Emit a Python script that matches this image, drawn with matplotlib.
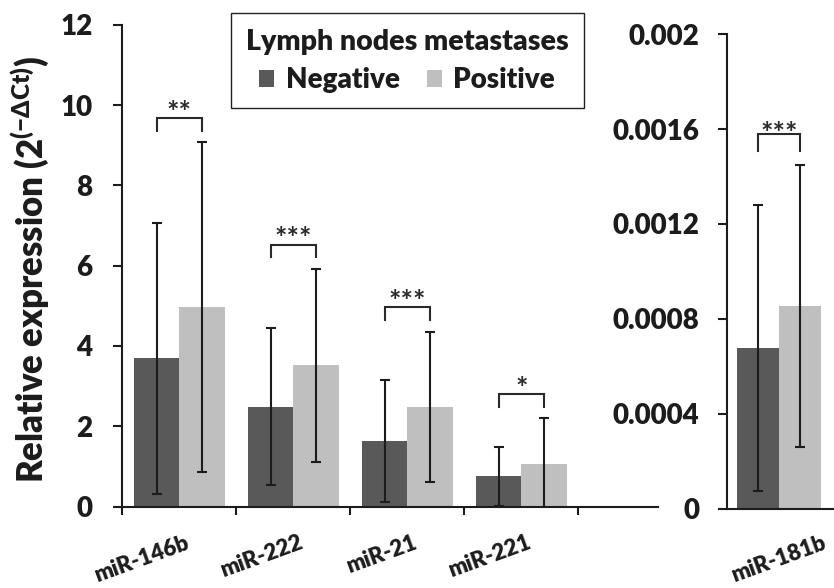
import matplotlib
matplotlib.use('Agg')
import matplotlib.pyplot as plt
from matplotlib.patches import Patch
import numpy as np

WT = 'heavy'
plt.rcParams['font.family'] = ['Lato', 'DejaVu Sans']
plt.rcParams['font.weight'] = WT
plt.rcParams['mathtext.fontset'] = 'custom'
for k in ['rm', 'it', 'bf', 'sf']:
    plt.rcParams['mathtext.' + k] = 'Lato:' + WT
plt.rcParams['mathtext.fallback'] = 'stixsans'

# ---------------- data ----------------
categories = ['miR-146b', 'miR-222', 'miR-21', 'miR-221']
neg_mean = [3.69, 2.49, 1.63, 0.75]
neg_sd = [3.37, 1.95, 1.52, 0.74]
pos_mean = [4.97, 3.52, 2.49, 1.07]
pos_sd = [4.10, 2.40, 1.87, 1.13]
sig = ['**', '***', '***', '*']

categories2 = ['miR-181b']
neg2_mean = [0.000676]
neg2_sd = [0.000603]
pos2_mean = [0.000855]
pos2_sd = [0.000595]
sig2 = ['***']

left_ticks = [0, 2, 4, 6, 8, 10, 12]
right_ticks = [0, 0.0004, 0.0008, 0.0012, 0.0016, 0.002]
right_tick_labels = ['0', '0.0004', '0.0008', '0.0012', '0.0016', '0.002']

legend_title = 'Lymph nodes metastases'
series_names = ['Negative', 'Positive']
ylabel = r'Relative expression (2$^{\mathrm{(-\Delta Ct)}}$)'

# ---------------- style ----------------
NEG = '#595959'
POS = '#bfbfbf'
INK = '#1c1c1c'
W, H = 834, 588
BW = 0.4

fig = plt.figure(figsize=(W / 100, H / 100), dpi=100)
ax1 = fig.add_axes([122.3 / W, 1 - 506.6 / H, 536 / W, 481.9 / H])
ax2 = fig.add_axes([726.7 / W, 1 - 508.5 / H, 107.3 / W, 474.2 / H])


def draw_panel(ax, cats, nm, nsd, pm, psd, stars, d_leg, d_top, star_off):
    x = np.arange(len(cats))
    ax.bar(x - BW / 2, nm, BW, color=NEG, zorder=2)
    ax.bar(x + BW / 2, pm, BW, color=POS, zorder=2)
    ax.errorbar(x - BW / 2, nm, yerr=nsd, fmt='none', ecolor=INK,
                elinewidth=1.5, capsize=3.4, capthick=1.5, zorder=3)
    ax.errorbar(x + BW / 2, pm, yerr=psd, fmt='none', ecolor=INK,
                elinewidth=1.5, capsize=3.4, capthick=1.5, zorder=3)
    for i in range(len(cats)):
        x1, x2 = x[i] - BW / 2, x[i] + BW / 2
        yl = pm[i] + psd[i] + d_leg
        yt = yl + d_top
        ax.plot([x1, x1, x2, x2], [yl, yt, yt, yl], color='#2a2a2a',
                lw=1.5, solid_joinstyle='miter', zorder=3, clip_on=False)
        ax.annotate(stars[i], xy=((x1 + x2) / 2, yt), xytext=(0, star_off),
                    textcoords='offset points', ha='center', va='center',
                    fontsize=21, fontweight='bold', color='#2a2a2a')
    for s in ['top', 'right']:
        ax.spines[s].set_visible(False)
    for s in ['left', 'bottom']:
        ax.spines[s].set_linewidth(1.5)
        ax.spines[s].set_color(INK)
    ax.tick_params(axis='y', direction='out', length=6.8, width=1.5,
                   color=INK, labelsize=20, labelcolor=INK)


draw_panel(ax1, categories, neg_mean, neg_sd, pos_mean, pos_sd, sig,
           0.29, 0.31, 4.0)
ax1.set_xlim(-0.5, 4.2)
ax1.set_ylim(0, 12)
ax1.set_yticks(left_ticks)
ax1.set_yticklabels([str(t) for t in left_ticks])
ax1.tick_params(axis='y', pad=14.5)
ax1.set_xticks(np.arange(len(categories) + 1) - 0.5)
ax1.set_xticklabels([''] * (len(categories) + 1))
ax1.tick_params(axis='x', direction='out', length=6, width=1.5, color=INK)
for i, c in enumerate(categories):
    ax1.annotate(c, xy=(i, 0), xycoords=('data', 'axes fraction'),
                 xytext=(4, -18), textcoords='offset points',
                 ha='right', va='top', rotation=20, rotation_mode='anchor',
                 fontsize=16, color=INK)

draw_panel(ax2, categories2, neg2_mean, neg2_sd, pos2_mean, pos2_sd, sig2,
           0.000058, 0.00007, 0.5)
ax2.set_xlim(-0.5, 0.52)
ax2.set_ylim(0, 0.002)
ax2.set_yticks(right_ticks)
ax2.set_yticklabels(right_tick_labels)
ax2.tick_params(axis='y', pad=13)
ax2.set_xticks([])
for i, c in enumerate(categories2):
    ax2.annotate(c, xy=(i, 0), xycoords=('data', 'axes fraction'),
                 xytext=(31, -17), textcoords='offset points',
                 ha='right', va='top', rotation=20, rotation_mode='anchor',
                 fontsize=16, color=INK)

fig.text(42.5 / W, 1 - 270 / H, ylabel, rotation=90, rotation_mode='anchor',
         ha='center', va='baseline', fontsize=25, color=INK)

handles = [Patch(facecolor=NEG), Patch(facecolor=POS)]
leg = ax1.legend(handles, series_names, ncol=2, title=legend_title,
                 loc='upper left', bbox_to_anchor=(230.7 / W, 1 - 13.3 / H),
                 bbox_transform=fig.transFigure, borderaxespad=0,
                 prop={'weight': WT, 'size': 20},
                 title_fontproperties={'weight': WT, 'size': 20.5},
                 handlelength=0.54, handleheight=0.54, handletextpad=0.4,
                 columnspacing=1.0, borderpad=0.55, labelspacing=0.45,
                 frameon=True, fancybox=False, framealpha=1,
                 edgecolor='#222222')
leg.get_frame().set_linewidth(1.0)
for t in leg.get_texts():
    t.set_color(INK)
leg.get_title().set_color(INK)

fig.savefig('out.png', dpi=100)
